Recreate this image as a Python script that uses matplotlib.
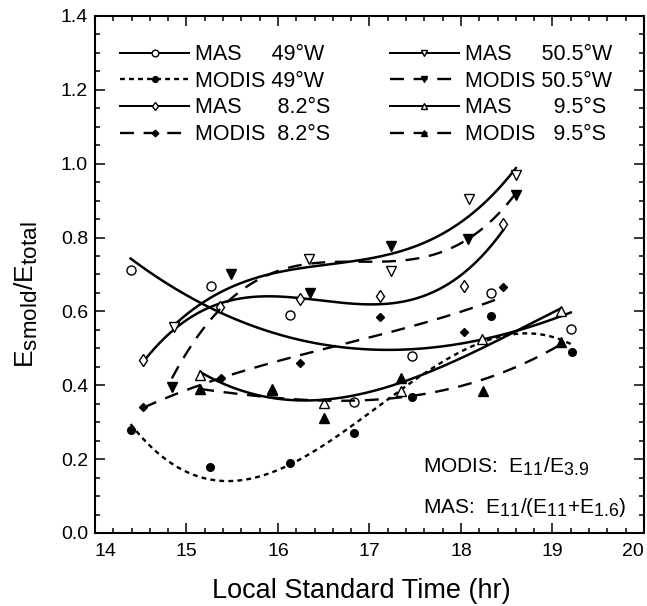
import numpy as np
import matplotlib
matplotlib.use("Agg")
import matplotlib.pyplot as plt
import matplotlib._mathtext as _mt
from matplotlib.lines import Line2D
from matplotlib.ticker import MultipleLocator, FormatStrFormatter

plt.rcParams.update({
    "font.family"       : "Liberation Sans",
    "mathtext.fontset"  : "custom",
    "mathtext.rm"       : "Liberation Sans",
    "mathtext.it"       : "Liberation Sans:italic",
    "mathtext.default"  : "regular",
    "lines.scale_dashes": False,
})
# the original uses nearly full-size subscripts
_mt.SHRINK_FACTOR = 0.85

# ─── Data: local time (hr), E_smold / E_total ───────────────────────────────
mas_49w_t    = [14.39, 15.27, 16.13, 16.83, 17.46, 18.33, 19.20]
mas_49w_v    = [0.712, 0.669, 0.590, 0.354, 0.479, 0.649, 0.552]
modis_49w_t  = [14.39, 15.26, 16.13, 16.83, 17.46, 18.33, 19.21]
modis_49w_v  = [0.280, 0.178, 0.189, 0.270, 0.369, 0.588, 0.489]
mas_82s_t    = [14.53, 15.37, 16.24, 17.11, 18.03, 18.46]
mas_82s_v    = [0.468, 0.613, 0.634, 0.643, 0.670, 0.837]
modis_82s_t  = [14.53, 15.38, 16.24, 17.11, 18.03, 18.46]
modis_82s_v  = [0.342, 0.419, 0.459, 0.586, 0.545, 0.667]
mas_505w_t   = [14.86, 16.34, 17.23, 18.09, 18.60]
mas_505w_v   = [0.559, 0.742, 0.710, 0.904, 0.969]
modis_505w_t = [14.84, 15.49, 16.35, 17.23, 18.08, 18.60]
modis_505w_v = [0.396, 0.701, 0.651, 0.777, 0.795, 0.915]
mas_95s_t    = [15.15, 15.93, 16.50, 17.35, 18.23, 19.09]
mas_95s_v    = [0.428, 0.390, 0.351, 0.385, 0.524, 0.601]
modis_95s_t  = [15.15, 15.93, 16.50, 17.35, 18.24, 19.09]
modis_95s_v  = [0.389, 0.387, 0.311, 0.419, 0.385, 0.518]

labels = ["MAS     49°W", "MODIS 49°W", "MAS      8.2°S", "MODIS  8.2°S",
          "MAS     50.5°W", "MODIS 50.5°W", "MAS       9.5°S", "MODIS   9.5°S"]

x_ticks = [14, 15, 16, 17, 18, 19, 20]

SHORT = (0, (3.5, 3.0))
LONG  = (0, (10.0, 7.0))

# (t, v, linestyle, marker, filled, markersize, linewidth)
series = [
    (mas_49w_t,    mas_49w_v,    "-",   "o", False, 6.5, 1.8),
    (modis_49w_t,  modis_49w_v,  SHORT, "o", True,  5.5, 1.7),
    (mas_82s_t,    mas_82s_v,    "-",   "d", False, 6.0, 1.8),
    (modis_82s_t,  modis_82s_v,  LONG,  "D", True,  4.5, 1.7),
    (mas_505w_t,   mas_505w_v,   "-",   "v", False, 6.5, 1.8),
    (modis_505w_t, modis_505w_v, LONG,  "v", True,  6.5, 1.7),
    (mas_95s_t,    mas_95s_v,    "-",   "^", False, 6.5, 1.8),
    (modis_95s_t,  modis_95s_v,  LONG,  "^", True,  6.5, 1.7),
]

fig = plt.figure(figsize=(6.47, 6.06), dpi=100)
ax = fig.add_axes([0.1468, 0.1205, 0.8485, 0.8531])

handles = []
for (t, v, ls, mk, filled, ms, lw), lab in zip(series, labels):
    t = np.asarray(t)
    v = np.asarray(v)
    # cubic fit through the observations, as in the original figure
    coef = np.polyfit(t, v, 3)
    tt = np.linspace(t.min(), t.max(), 200)
    ax.plot(tt, np.polyval(coef, tt), color="black", linestyle=ls, linewidth=lw)
    fc = "black" if filled else "white"
    ax.plot(t, v, linestyle="none", marker=mk, markersize=ms,
            markerfacecolor=fc, markeredgecolor="black", markeredgewidth=1.0)
    handles.append(Line2D([], [], color="black", linestyle=ls,
                          linewidth=lw if filled else lw * 0.8,
                          marker=mk, markersize=ms * 0.75,
                          markerfacecolor=fc, markeredgecolor="black",
                          markeredgewidth=1.0, label=lab))

ax.legend(handles=handles, ncol=2, loc="upper left",
          bbox_to_anchor=(0.03, 0.962), frameon=False, fontsize=15.5,
          handlelength=3.2, handletextpad=0.3, labelspacing=0.26,
          columnspacing=2.75, numpoints=1, borderaxespad=0.0)

ax.text(0.597, 0.116, r"MODIS:  E$_{11}$/E$_{3.9}$", transform=ax.transAxes,
        fontsize=15, ha="left", va="baseline")
ax.text(0.597, 0.039, r"MAS:  E$_{11}$/(E$_{11}$+E$_{1.6}$)", transform=ax.transAxes,
        fontsize=15, ha="left", va="baseline")

ax.set_xlim(14, 20)
ax.set_ylim(0, 1.4)
ax.set_xticks(x_ticks)
ax.xaxis.set_minor_locator(MultipleLocator(0.2))
ax.yaxis.set_major_locator(MultipleLocator(0.2))
ax.yaxis.set_minor_locator(MultipleLocator(0.05))
ax.yaxis.set_major_formatter(FormatStrFormatter("%.1f"))

ax.tick_params(which="both", direction="in", top=True, right=True,
               width=1.1, labelsize=14)
ax.tick_params(which="major", length=7)
ax.tick_params(which="minor", length=3.5)
ax.tick_params(axis="x", which="major", pad=7)
ax.tick_params(axis="y", which="major", pad=5)
for sp in ax.spines.values():
    sp.set_linewidth(1.5)

ax.set_xlabel("Local Standard Time (hr)", fontsize=19.5)
ax.xaxis.set_label_coords(0.486, -0.088)
ax.set_ylabel(r"E$_{smold}$/E$_{total}$", fontsize=19)
ax.yaxis.set_label_coords(-0.10, 0.46)

# keep the last tick label inside the picture, as in the original
fig.canvas.draw()
ax.get_xticklabels()[-1].set_horizontalalignment("right")
ax.get_xticklabels()[0].set_horizontalalignment("left")

fig.savefig("out.png", dpi=100)
